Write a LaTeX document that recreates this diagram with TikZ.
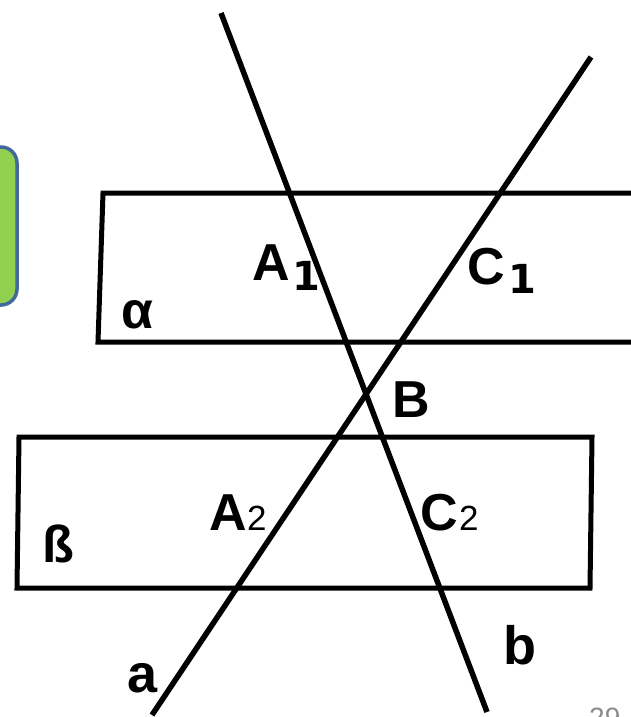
\documentclass[tikz,border=0pt]{standalone}
\usepackage{fontspec}
\setmainfont{Liberation Sans}
\newfontfamily\dvfont{DejaVu Sans}
\definecolor{boxgreen}{RGB}{146,208,80}
\definecolor{boxblue}{RGB}{65,105,155}
\definecolor{pagegray}{RGB}{140,140,140}
\begin{document}
\begin{tikzpicture}[x=1pt,y=-1pt,
  plane/.style={draw=black,line width=5pt,line join=miter},
  sline/.style={draw=black,line width=5.5pt},
  lbl/.style={inner sep=0pt,anchor=base west,font=\fontsize{52}{60}\selectfont\bfseries},
  subone/.style={inner sep=0pt,anchor=base west,font=\fontsize{40}{46}\selectfont\dvfont\bfseries},
  subtwo/.style={inner sep=0pt,anchor=base west,font=\fontsize{35}{40}\selectfont},
  linelbl/.style={inner sep=0pt,anchor=base west,font=\fontsize{54}{60}\selectfont\bfseries}]
\useasboundingbox (0,0) rectangle (631,717);
\fill[white] (0,0) rectangle (631,717);
% green box (cut off at left)
\draw[fill=boxgreen,draw=boxblue,line width=3.5pt,rounded corners=16pt] (-40,147) rectangle (17,305);
% planes
\draw[plane] (650,193) -- (103,193) -- (98,342) -- (650,342);
\draw[plane] (19,437) -- (592,437) -- (590,588) -- (17,588) -- cycle;
% lines
\coordinate (a1) at (152,715);
\coordinate (a2) at (591,57);
\coordinate (b1) at (221,13);
\coordinate (b2) at (487,712);
\draw[sline] (a1) -- (a2);
\draw[sline] (b1) -- (b2);
% labels
\node[lbl] (A1) at (252,280) {A};
\node[subone] (A1s) at (292,290) {1};
\node[lbl] (C1) at (467,284) {C};
\node[subone] (C1s) at (508,293) {1};
\node[lbl] (B) at (392,417) {B};
\node[lbl] (al) at (121,328) {α};
\node[lbl] (be) at (42,562) {ß};
\node[lbl] (A2) at (209,530) {A};
\node[subtwo] (A2s) at (247,530) {2};
\node[lbl] (C2) at (420,530) {C};
\node[subtwo] (C2s) at (459,530) {2};
\node[linelbl] (la) at (127,692) {a};
\node[linelbl] (lb) at (503,664) {b};
\node[inner sep=0pt,anchor=base west,font=\fontsize{28}{32}\selectfont,text=pagegray] (pg) at (589,727) {29};
\end{tikzpicture}
\end{document}
